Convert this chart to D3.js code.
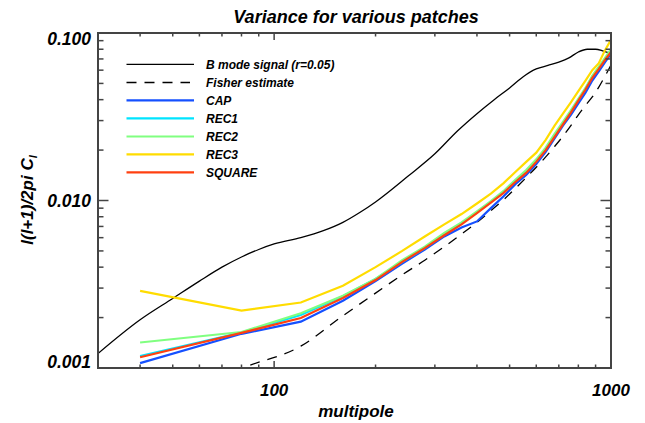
<!DOCTYPE html>
<html><head><meta charset="utf-8">
<script src="https://cdn.jsdelivr.net/npm/d3@7/dist/d3.min.js"></script>
<style>
body{margin:0;background:#fff;}
text{font-family:"Liberation Sans",Arial,sans-serif;font-weight:bold;font-style:italic;fill:#000;}
</style></head>
<body><svg id="c" width="645" height="423"></svg>
<script>
// ---- data ----
const ell = [40,80,120,160,200,240,280,320,360,400,440,480,520,560,600,640,680,720,760,800,840,880,920,960,1000];
const cap    = [0.00107,0.00160,0.00189,0.00252,0.0033,0.0042,0.0051,0.0061,0.0069,0.0075,0.0090,0.0106,0.0125,0.0142,0.0165,0.0195,0.0235,0.028,0.0325,0.038,0.044,0.052,0.059,0.067,0.075];
const rec1   = [0.00118,0.00163,0.00207,0.00268,0.0034,0.0043,0.0052,0.0063,0.0073,0.0085,0.0098,0.0112,0.0131,0.0149,0.0172,0.0204,0.0245,0.029,0.034,0.040,0.0465,0.055,0.062,0.070,0.079];
const rec2   = [0.00142,0.00164,0.00212,0.0027,0.0034,0.0044,0.0053,0.0064,0.0074,0.0086,0.0099,0.0114,0.0133,0.0152,0.0176,0.0207,0.0250,0.0295,0.0345,0.0405,0.047,0.0555,0.063,0.071,0.080];
const rec3   = [0.00289,0.0022,0.00246,0.0031,0.0040,0.0050,0.0061,0.0072,0.0083,0.0096,0.0110,0.0127,0.0148,0.0170,0.0193,0.0230,0.0280,0.033,0.0385,0.045,0.052,0.060,0.066,0.079,0.091];
const square = [0.00116,0.00162,0.00199,0.00262,0.00335,0.0043,0.0052,0.0062,0.0072,0.0084,0.0097,0.0111,0.0129,0.0146,0.0170,0.0200,0.0240,0.0285,0.0335,0.0395,0.046,0.054,0.061,0.069,0.077];
const fisher = [0.00045,0.00099,0.00135,0.00205,0.0028,0.0036,0.0044,0.0053,0.0063,0.0074,0.0087,0.0101,0.0118,0.0137,0.0158,0.0182,0.0210,0.0242,0.0280,0.0325,0.0370,0.0415,0.0475,0.0553,0.0644];
const bEll   = [30,40,50,60,70,80,90,100,120,140,160,180,200,250,300,350,400,450,500,550,600,650,700,750,800,850,900,950,1000];
const bmode  = [0.00122,0.00194,0.0026,0.0033,0.0040,0.0046,0.0051,0.0055,0.0060,0.0066,0.0074,0.0085,0.0098,0.0140,0.019,0.026,0.033,0.040,0.047,0.055,0.061,0.064,0.067,0.071,0.077,0.080,0.080,0.078,0.0756];
const seriesNames = ["B mode signal (r=0.05)","Fisher estimate","CAP","REC1","REC2","REC3","SQUARE"];
const seriesColors = ["#000000","#000000","#1550ff","#00e4ff","#80ff80","#ffdc00","#ff4010"];
const xTickLabels = [100,1000];
const yTickLabels = ["0.001","0.010","0.100"];
const yTickValues = [0.001,0.01,0.1];

// ---- layout ----
const L=98,R=611,T=33,B=368;
const svg=d3.select("#c");
const x=d3.scaleLog().domain([30,1000]).range([L,R]);
const y=d3.scaleLog().domain([0.001,0.1]).range([B,T]);

svg.append("clipPath").attr("id","clip").append("rect").attr("x",L).attr("y",T).attr("width",R-L).attr("height",B-T);
const g=svg.append("g").attr("clip-path","url(#clip)");

const line=d3.line().x(d=>x(d[0])).y(d=>y(d[1]));
const smooth=d3.line().x(d=>x(d[0])).y(d=>y(d[1])).curve(d3.curveMonotoneX);

g.append("path").attr("d",smooth(bEll.map((l,i)=>[l,bmode[i]]))).attr("fill","none").attr("stroke","#000").attr("stroke-width",1.3);
g.append("path").attr("d",smooth(ell.map((l,i)=>[l,fisher[i]]))).attr("fill","none").attr("stroke","#000").attr("stroke-width",1.3).attr("stroke-dasharray","10,8");
[cap,rec1,rec2,rec3,square].forEach((s,k)=>{
  g.append("path").attr("d",line(ell.map((l,i)=>[l,s[i]]))).attr("fill","none").attr("stroke",seriesColors[k+2]).attr("stroke-width",2.2);
});

// ---- axes ----
const axc="#444";
const ax=svg.append("g");
ax.append("rect").attr("x",L).attr("y",T).attr("width",R-L).attr("height",B-T).attr("fill","none").attr("stroke",axc).attr("stroke-width",2);
const xMinor=[40,50,60,70,80,90,200,300,400,500,600,700,800,900];
xMinor.forEach(v=>{
  ax.append("line").attr("x1",x(v)).attr("x2",x(v)).attr("y1",B).attr("y2",B-3.5).attr("stroke",axc).attr("stroke-width",1.5);
  ax.append("line").attr("x1",x(v)).attr("x2",x(v)).attr("y1",T).attr("y2",T+3.5).attr("stroke",axc).attr("stroke-width",1.5);
});
xTickLabels.forEach(v=>{
  ax.append("line").attr("x1",x(v)).attr("x2",x(v)).attr("y1",B).attr("y2",B-7).attr("stroke",axc).attr("stroke-width",1.5);
  ax.append("line").attr("x1",x(v)).attr("x2",x(v)).attr("y1",T).attr("y2",T+7).attr("stroke",axc).attr("stroke-width",1.5);
  svg.append("text").attr("x",x(v)).attr("y",395.5).attr("text-anchor","middle").attr("font-size",17).text(v);
});
const yMinor=[0.002,0.003,0.004,0.005,0.006,0.007,0.008,0.009,0.02,0.03,0.04,0.05,0.06,0.07,0.08,0.09];
yMinor.forEach(v=>{
  ax.append("line").attr("x1",L).attr("x2",L+5.5).attr("y1",y(v)).attr("y2",y(v)).attr("stroke",axc).attr("stroke-width",1.5);
  ax.append("line").attr("x1",R).attr("x2",R-5.5).attr("y1",y(v)).attr("y2",y(v)).attr("stroke",axc).attr("stroke-width",1.5);
});
const yLabelY=[362,201,39];
yTickValues.forEach((v,i)=>{
  ax.append("line").attr("x1",L).attr("x2",L+10.5).attr("y1",y(v)).attr("y2",y(v)).attr("stroke",axc).attr("stroke-width",1.5);
  ax.append("line").attr("x1",R).attr("x2",R-10.5).attr("y1",y(v)).attr("y2",y(v)).attr("stroke",axc).attr("stroke-width",1.5);
  svg.append("text").attr("x",91).attr("y",yLabelY[i]).attr("dy","0.36em").attr("text-anchor","end").attr("font-size",17.5).text(yTickLabels[i]);
});

// titles
svg.append("text").attr("x",356).attr("y",23).attr("text-anchor","middle").attr("font-size",18).text("Variance for various patches");
svg.append("text").attr("x",356).attr("y",417).attr("text-anchor","middle").attr("font-size",17).text("multipole");
const yl=svg.append("text").attr("transform","translate(33,200) rotate(-90)").attr("text-anchor","middle").attr("font-size",17);
yl.append("tspan").text("l(l+1)/2pi C");
yl.append("tspan").attr("font-size",11).attr("dy",4).text("l");

// legend
const legY=[64.3,82.5,100.3,118.3,136.5,154.3,172.3];
seriesNames.forEach((n,i)=>{
  const ln=svg.append("line").attr("x1",126.5).attr("x2",194).attr("y1",legY[i]).attr("y2",legY[i])
    .attr("stroke",seriesColors[i]).attr("stroke-width",i<2?1.3:2.2);
  if(i===1) ln.attr("x2",190).attr("stroke-dasharray","10,8");
  svg.append("text").attr("x",206).attr("y",legY[i]).attr("dy","0.36em").attr("font-size",12).text(n);
});
</script></body></html>
